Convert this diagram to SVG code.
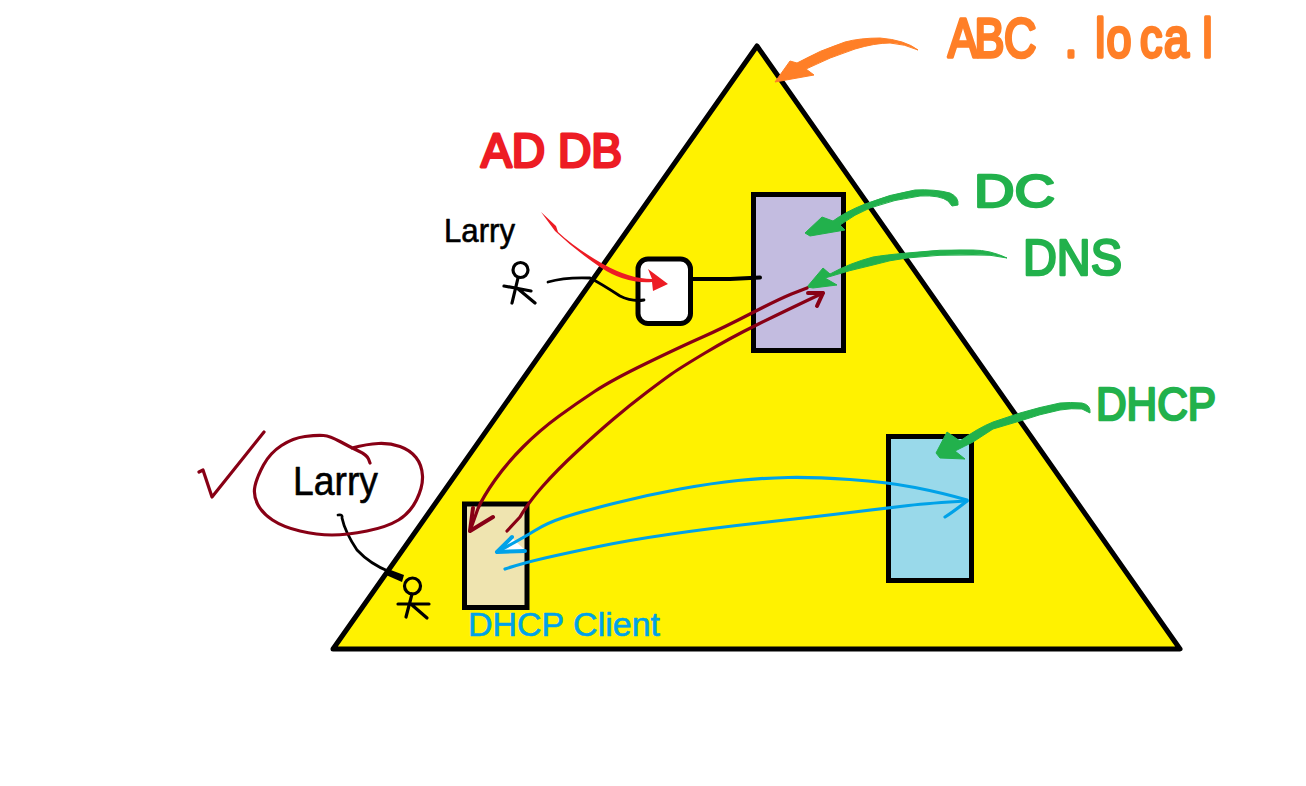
<svg xmlns="http://www.w3.org/2000/svg" width="1306" height="786" viewBox="0 0 1306 786">
<style>
.box{stroke:#000;stroke-width:5;stroke-linejoin:miter}
.ink{fill:none;stroke-linecap:round;stroke-linejoin:round}
.blk{stroke:#000;stroke-width:2.800}
.mar{stroke:#880015;stroke-width:3.200}
.sky{stroke:#00a2e8;stroke-width:3.200}
.heavy{stroke-width:4}
.fig{fill:none;stroke:#000;stroke-width:3.200;stroke-linecap:round}
.grn{fill:#22b14c;stroke:#22b14c;stroke-width:1;stroke-linejoin:round}
.t{font-family:"Liberation Sans",Arial,sans-serif;stroke-linejoin:round}
</style>
<rect width="1306" height="786" fill="#fff"/>
<g id="domain"><path d="M757 46L1180 649H333Z" fill="#fff200" stroke="#000" stroke-width="5" stroke-linejoin="round"/></g>
<g id="dc"><rect class="box" x="753.500" y="194.500" width="90" height="156" fill="#c3bce0"/></g>
<g id="dhcp-server"><rect class="box" x="888.500" y="436.500" width="83" height="144" fill="#99d9ea"/></g>
<g id="client"><rect class="box" x="464.500" y="504" width="62.500" height="103.500" fill="#efe4b0"/></g>
<g id="workstation"><rect class="box" x="638" y="259" width="52.500" height="64.500" rx="10" fill="#fff"/></g>
<g id="person-top" class="fig"><circle cx="520.500" cy="270" r="7.500"/><path d="M518 278L512 303M504 286L531 291M517 288L535 303"/></g>
<g id="person-bottom" class="fig"><circle cx="412.500" cy="586" r="8"/><path d="M412 594L406 617M398 604H429M412 605L427 618"/></g>
<g id="connectors">
<path class="ink" stroke="#000" stroke-width="4" d="M692 279H730L760 277.500"/>
<path class="ink blk" d="M548 282Q565 277 590 278Q600 283 620 296Q632 302 644 300"/>
<path class="ink blk" d="M338 515Q343 514 342 518Q345 532 357 550Q370 564 390 572"/>
<path d="M388 569L404 575L402 582L386 575Z" fill="#000"/>
<path d="M541 212L556 226L558 232Q575 248 603 264Q630 279 652 279L648 269L668 284L653 291L652 282Q625 284 600 267Q575 250 555 231Z" fill="#ed1c24"/>
<path d="M918 50Q905 40 880 38Q860 38 845 42Q820 50 797 63L790 61L775 82L814 75L806 69Q830 57 855 49Q875 43 890 43Q905 44 918 50Z" fill="#ff7f27" stroke="#ff7f27" stroke-linejoin="round"/>
<path class="grn" d="M958 205Q959 197 950 193Q935 189 915 190Q890 194 865 204Q845 212 833 221L822 217L805 233L810 236L845 230L840 225Q855 214 870 208Q895 199 920 196Q940 195 948 201L952 206Z"/>
<path class="grn" d="M1007 258Q990 250 973 250Q940 249 907 253Q885 255 873 257Q850 263 830 274L823 268L807 287L813 288L837 285L825 278Q850 270 873 265Q890 260 907 258Q940 254 973 255Q990 254 1007 258Z"/>
<path class="grn" d="M1090 413Q1091 405 1082 403Q1070 402 1060 403Q1040 407 1020 413L993 422Q978 428 960 441L947 432L936 453L940 458L965 459L955 451Q965 446 973 442L993 429L1020 421Q1040 414 1060 410Q1072 408 1082 409Z"/>
<path class="ink mar" d="M807 288L791.500 294Q777 300 750 314Q723 328 701.500 337.500Q680 347 646 363.500Q612 380 594.500 391.500Q577 403 558.500 416.500Q540 430 523.500 446.500Q507 463 495 480Q483 497 478 508.500L470 531"/>
<path class="ink mar heavy" d="M473 508L470 531L493 517"/>
<path class="ink mar" d="M507 531L520 517Q528 503 542.500 486.500Q557 470 577 451.500Q597 433 613.500 419Q630 405 646.500 392.500Q663 380 671.500 374Q680 368 705 353Q730 338 758.500 324Q787 310 823 293"/>
<path class="ink mar heavy" d="M808 293H823L817 306"/>
<path d="M512 538L503 550L525 550Z" fill="#fff"/>
<path class="ink sky" d="M967 500Q943 493 915 487.500Q887 482 850 479.500Q813 477 788 477.500Q763 478 738 480.500Q713 483 680 489Q647 495 613.500 503.500Q580 512 563.500 517.500Q547 523 535 530.500Q523 538 497 552"/>
<path class="ink sky heavy" d="M512 537L497 552L525 551"/>
<path class="ink sky" d="M505 569Q523 563 545 558Q567 553 598.500 546.500Q630 540 671.500 534Q713 528 763 522.500Q813 517 850 512.500Q887 508 908.500 505.500Q930 503 967 501"/>
<path class="ink sky" d="M945 517Q953 512 967 501"/>
</g>
<g id="circle-mark">
<path class="ink mar" d="M370 463L368.500 459Q367 455 358.500 451Q350 447 340 441.500Q330 436 323.500 435.500Q317 435 305 436.500Q293 438 281.500 445.500Q270 453 263.500 465Q257 477 255 486Q253 495 257.500 504Q262 513 272.500 520Q283 527 300 531Q317 535 332 535Q347 535 367 531Q387 527 398.500 520Q410 513 416.500 500Q423 487 422.500 476Q422 465 416 457.500Q410 450 400 446.500Q390 443 378.500 443.500Q367 444 352 448"/>
<path class="ink mar" d="M199 472L203 470L212 497L264 432"/>
</g>
<g id="labels">
<text class="t" transform="translate(948 57) scale(.8 1)" x="0 33 70 100 146 184 198 240 270 318" y="0" font-size="56" fill="#ff7f27" stroke="#ff7f27" stroke-width="3.500">ABC .local</text>
<text class="t" x="481" y="167" font-size="48" textLength="141" lengthAdjust="spacingAndGlyphs" fill="#ed1c24" stroke="#ed1c24" stroke-width="3">AD DB</text>
<text class="t" x="444" y="242" font-size="33" textLength="71" lengthAdjust="spacingAndGlyphs" fill="#000" stroke="#000" stroke-width=".6">Larry</text>
<text class="t" x="293" y="495" font-size="41" textLength="85" lengthAdjust="spacingAndGlyphs" fill="#000" stroke="#000" stroke-width=".6">Larry</text>
<text class="t" x="974" y="207" font-size="46" textLength="81" lengthAdjust="spacingAndGlyphs" fill="#22b14c" stroke="#22b14c" stroke-width="2.500">DC</text>
<text class="t" x="1023" y="275" font-size="50" textLength="99" lengthAdjust="spacingAndGlyphs" fill="#22b14c" stroke="#22b14c" stroke-width="2.500">DNS</text>
<text class="t" x="1096" y="420" font-size="47" textLength="120" lengthAdjust="spacingAndGlyphs" fill="#22b14c" stroke="#22b14c" stroke-width="2.500">DHCP</text>
<text class="t" x="468" y="636" font-size="33" textLength="192" lengthAdjust="spacingAndGlyphs" fill="#00a2e8" stroke="#00a2e8" stroke-width=".6">DHCP Client</text>
</g>
</svg>
